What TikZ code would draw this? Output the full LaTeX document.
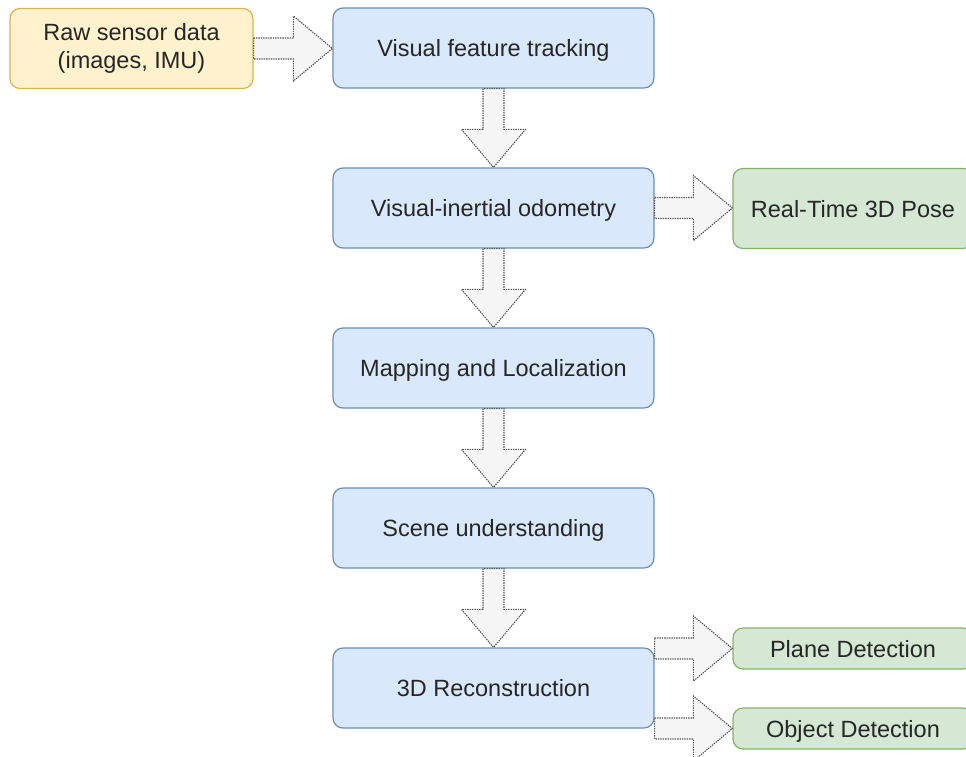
\documentclass[tikz,border=0pt]{standalone}
\usepackage{fontspec}
\setmainfont{Liberation Sans}
\usetikzlibrary{calc}

\definecolor{blueFill}{HTML}{DAE8FC}
\definecolor{blueLine}{HTML}{6C8EBF}
\definecolor{yellowFill}{HTML}{FFF2CC}
\definecolor{yellowLine}{HTML}{D6B656}
\definecolor{greenFill}{HTML}{D5E8D4}
\definecolor{greenLine}{HTML}{82B366}
\definecolor{arrowFill}{HTML}{F5F5F5}
\definecolor{arrowLine}{HTML}{555555}
\definecolor{textInk}{HTML}{262626}

\tikzset{
  box/.style={rectangle, rounded corners=10pt, line width=1.2pt,
    minimum height=80pt, align=center, text=textInk,
    font=\fontsize{23.5}{28.5}\selectfont, inner sep=0pt},
  oneline/.style={text height=20pt, text depth=3pt},
  stage/.style={box, oneline, fill=blueFill, draw=blueLine, minimum width=321pt},
  source/.style={box, fill=yellowFill, draw=yellowLine, minimum width=243pt},
  result/.style={box, oneline, fill=greenFill, draw=greenLine, minimum width=240pt},
  smallresult/.style={result, minimum height=41pt},
  blockarrow/.style={fill=arrowFill, draw=arrowLine, line width=1.1pt,
    dash pattern=on 1.4pt off 1pt, line join=miter},
}

\begin{document}
\begin{tikzpicture}[x=1pt, y=-1pt]
  \useasboundingbox (0,0) rectangle (966,756);
  \clip (0,0) rectangle (966,756);

  % pipeline stages
  \node[source] (raw) at (131.5,48.5) {Raw sensor data\\(images, IMU)};
  \node[stage] (vft) at (493.5,48) {Visual feature tracking};
  \node[stage] (vio) at (493.5,208) {Visual-inertial odometry};
  \node[stage] (map) at (493.5,368) {Mapping and Localization};
  \node[stage] (scene) at (493.5,528) {Scene understanding};
  \node[stage] (recon) at (493.5,688) {3D Reconstruction};

  % outputs
  \node[result] (pose) at (853,208.5) {Real-Time 3D Pose};
  \node[smallresult] (plane) at (853,648.5) {Plane Detection};
  \node[smallresult] (object) at (853,728.5) {Object Detection};

  \coordinate (planeFrom) at (recon.east |- plane.west);
  \coordinate (objectFrom) at (recon.east |- object.west);

  % horizontal block arrows: shaft half 10.5, head half 32.5, head length 39
  \foreach \a/\b in {raw.east/vft.west, vio.east/pose.west,
                     planeFrom/plane.west, objectFrom/object.west} {
    \draw[blockarrow] let \p1=(\a), \p2=(\b) in
      (\x1,\y1+10.5pt) -- (\x2-39pt,\y1+10.5pt) -- (\x2-39pt,\y1+32.5pt)
      -- (\x2,\y1) -- (\x2-39pt,\y1-32.5pt) -- (\x2-39pt,\y1-10.5pt)
      -- (\x1,\y1-10.5pt) -- cycle;
  }

  % vertical block arrows between stages
  \foreach \a/\b in {vft/vio, vio/map, map/scene, scene/recon} {
    \draw[blockarrow] let \p1=(\a.south), \p2=(\b.north) in
      (\x1-10.5pt,\y1) -- (\x1-10.5pt,\y2+38pt) -- (\x1-32pt,\y2+38pt)
      -- (\x1,\y2) -- (\x1+32pt,\y2+38pt) -- (\x1+10.5pt,\y2+38pt)
      -- (\x1+10.5pt,\y1) -- cycle;
  }
\end{tikzpicture}
\end{document}
